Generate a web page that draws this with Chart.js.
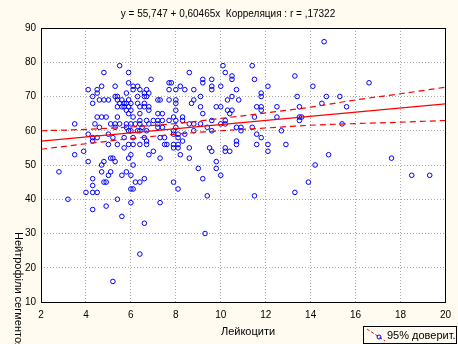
<!DOCTYPE html>
<html>
<head>
<meta charset="utf-8">
<script src="https://cdn.jsdelivr.net/npm/chart.js@4.4.0/dist/chart.umd.min.js"></script>
<style>
    html, body { margin: 0; padding: 0; background: #fffbf0; }
    canvas { display: block; }
</style>
</head>
<body>
<canvas id="scatterChart" width="458" height="344"></canvas>
<script>
// Лейкоцити (x) and Нейтрофіли сегментоядерні (y), one line per y level
const leukocytes = [
    14.6,
    5.5, 10.1, 11.4,
    4.8, 5.9, 8.6, 10.2,
    10.5, 13.3,
    6.9, 9.2, 9.6, 10.5, 11.5,
    5.9, 7.7, 7.8, 9.2, 16.6,
    4.7, 5.3, 6.1, 6.3, 8.2, 9.6, 10.0, 12.1, 14.1,
    4.1, 4.5, 6.1, 6.4, 6.7, 7.7, 8.0, 8.4, 8.8, 9.6, 10.7,
    4.5, 5.8, 6.6, 6.8, 11.8,
    4.3, 5.3, 5.4, 6.3, 6.6, 6.7, 9.1, 10.5, 11.8, 13.4, 14.7, 15.3,
    4.6, 4.8, 5.0, 5.4, 5.6, 5.9, 7.2, 7.3, 7.7, 8.0, 8.8, 10.3, 10.8,
    4.3, 5.5, 5.7, 5.8, 6.0, 6.3, 6.6, 8.0, 8.7, 14.5,
    5.4, 5.6, 5.7, 5.9, 6.4, 6.6, 6.8, 9.1, 9.8, 10.0, 11.6, 11.8, 12.5, 13.5, 15.6,
    5.8, 6.0, 6.8, 8.0, 10.3, 10.5, 11.8,
    5.9, 6.4, 7.2, 7.4, 9.2, 10.4,
    4.5, 4.7, 4.9, 5.4, 6.1, 7.9, 8.3, 11.5, 12.5, 13.5, 13.6,
    6.4, 6.7, 7.0, 7.2, 7.4, 7.7, 8.0, 8.3, 9.6, 10.2, 13.5,
    3.5, 4.4, 5.1, 5.3, 5.5, 5.8, 6.0, 6.2, 6.4, 6.8, 7.2, 8.6, 8.8, 9.1, 10.0, 10.2, 15.4,
    4.6, 5.3, 5.8, 6.5, 7.2, 7.4, 8.0, 9.4, 10.7, 10.9, 11.4,
    5.9, 6.0, 6.3, 6.4, 6.7, 7.9, 8.8, 9.6, 10.9, 12.7,
    4.1, 5.0, 7.9, 8.1, 8.4, 11.6,
    4.3, 4.5, 5.2, 5.7, 6.1, 6.6, 7.3, 7.5, 8.1, 11.8,
    4.3, 6.7, 8.3, 10.7,
    5.0, 5.4, 5.9, 6.1, 6.4, 6.7, 7.5, 7.6, 7.9, 8.1, 10.7, 11.6, 12.1, 12.9,
    5.7, 7.9, 8.1, 8.6, 9.5, 10.2,
    3.9, 7.0, 9.6, 10.2, 10.4, 12.1,
    3.5, 6.0, 6.8, 8.2, 14.8,
    5.1, 5.2, 5.9, 7.3, 8.6, 17.6,
    4.1, 4.8, 5.3, 9.8,
    4.7, 6.1, 14.2,
    9.0, 9.8,
    2.8, 4.7, 5.1, 5.8,
    5.0, 5.6, 6.0, 10.0, 18.5, 19.3,
    4.3, 6.6, 9.2,
    4.8, 4.9, 6.2, 6.4, 7.9, 13.9,
    4.3,
    6.0, 6.1, 8.1,
    4.0, 4.3, 4.5, 13.3,
    9.4, 11.5,
    3.2, 5.4,
    6.0, 7.3,
    4.9, 4.3, 5.6, 6.6, 9.3, 6.4, 5.2
];

const neutrophils = [
    86,
    79, 79, 79,
    77, 77, 77, 77,
    76, 76,
    75, 75, 75, 75, 75,
    74, 74, 74, 74, 74,
    73, 73, 73, 73, 73, 73, 73, 73, 73,
    72, 72, 72, 72, 72, 72, 72, 72, 72, 72, 72,
    71, 71, 71, 71, 71,
    70, 70, 70, 70, 70, 70, 70, 70, 70, 70, 70, 70,
    69, 69, 69, 69, 69, 69, 69, 69, 69, 69, 69, 69, 69,
    68, 68, 68, 68, 68, 68, 68, 68, 68, 68,
    67, 67, 67, 67, 67, 67, 67, 67, 67, 67, 67, 67, 67, 67, 67,
    66, 66, 66, 66, 66, 66, 66,
    65, 65, 65, 65, 65, 65,
    64, 64, 64, 64, 64, 64, 64, 64, 64, 64, 64,
    63, 63, 63, 63, 63, 63, 63, 63, 63, 63, 63,
    62, 62, 62, 62, 62, 62, 62, 62, 62, 62, 62, 62, 62, 62, 62, 62, 62,
    61, 61, 61, 61, 61, 61, 61, 61, 61, 61, 61,
    60, 60, 60, 60, 60, 60, 60, 60, 60, 60,
    59, 59, 59, 59, 59, 59,
    58, 58, 58, 58, 58, 58, 58, 58, 58, 58,
    57, 57, 57, 57,
    56, 56, 56, 56, 56, 56, 56, 56, 56, 56, 56, 56, 56, 56,
    55, 55, 55, 55, 55, 55,
    54, 54, 54, 54, 54, 54,
    53, 53, 53, 53, 53,
    52, 52, 52, 52, 52, 52,
    51, 51, 51, 51,
    50, 50, 50,
    49, 49,
    48, 48, 48, 48,
    47, 47, 47, 47, 47, 47,
    46, 46, 46,
    45, 45, 45, 45, 45, 45,
    44,
    43, 43, 43,
    42, 42, 42, 42,
    41, 41,
    40, 40,
    39, 39,
    38, 37, 35, 33, 30, 24, 16
];

// regression y = 55,747 + 0,60465x, ends read at x = 2 and x = 20
const fitX = [2, 20];
const fitY = [56.96, 67.84];

// 95% confidence band, read every 2 units of x
const bandX = [2, 4, 6, 8, 10, 12, 14, 16, 18, 20];
const bandUpper = [60.0, 60.4, 61.1, 62.1, 63.6, 65.2, 66.9, 69.0, 70.8, 72.7];
const bandLower = [54.6, 56.2, 57.7, 59.0, 60.0, 60.8, 61.6, 62.1, 62.5, 63.0];

const titleText = 'y = 55,747 + 0,60465x  Корреляция : r = ,17322';
const xTitle = 'Лейкоцити';
const yTitle = 'Нейтрофіли сегментоядерні';
const legendText = '95% доверит.';

const FONT = '"Liberation Sans", Arial, sans-serif';
const BG = '#fffbf0';

const toPoints = (xs, ys) => xs.map((x, i) => ({ x: x, y: ys[i] }));

const decorPlugin = {
    id: 'decor',
    beforeDraw(chart) {
        const { ctx, chartArea: a } = chart;
        ctx.save();
        ctx.fillStyle = BG;
        ctx.fillRect(0, 0, chart.width, chart.height);
        ctx.fillStyle = '#ffffff';
        ctx.fillRect(a.left, a.top, a.right - a.left, a.bottom - a.top);
        ctx.restore();
    },
    afterDraw(chart) {
        const { ctx, chartArea: a } = chart;
        ctx.save();

        // frame
        ctx.strokeStyle = '#000';
        ctx.lineWidth = 1;
        ctx.strokeRect(Math.round(a.left) + 0.5, Math.round(a.top) + 0.5,
            Math.round(a.right - a.left), Math.round(a.bottom - a.top));

        // title
        ctx.fillStyle = '#000';
        ctx.font = '10px ' + FONT;
        ctx.textAlign = 'center';
        ctx.textBaseline = 'middle';
        ctx.fillText(titleText, 228, 14);

        // x axis title
        ctx.font = '11px ' + FONT;
        ctx.fillText(xTitle, 248, 332);

        // y axis title, reads top to bottom
        ctx.save();
        ctx.translate(18, 232);
        ctx.rotate(Math.PI / 2);
        ctx.textAlign = 'left';
        ctx.fillText(yTitle, 0, 0);
        ctx.restore();

        // legend box
        ctx.strokeRect(363.5, 326.5, 93, 17);
        ctx.strokeStyle = '#ff0000';
        ctx.setLineDash([3, 2]);
        ctx.beginPath();
        ctx.moveTo(367, 329);
        ctx.lineTo(385, 341);
        ctx.stroke();
        ctx.setLineDash([]);
        ctx.strokeStyle = '#0000ff';
        ctx.beginPath();
        ctx.arc(379, 337, 2, 0, Math.PI * 2);
        ctx.stroke();
        ctx.fillStyle = '#000';
        ctx.font = '11px ' + FONT;
        ctx.textAlign = 'left';
        ctx.fillText(legendText, 387, 336);

        ctx.restore();
    }
};

const ctx = document.getElementById('scatterChart').getContext('2d');
new Chart(ctx, {
    type: 'scatter',
    data: {
        datasets: [
            {
                label: 'fit',
                type: 'line',
                data: toPoints(fitX, fitY),
                borderColor: '#ff0000',
                borderWidth: 1.2,
                pointRadius: 0,
                fill: false,
                order: 0
            },
            {
                label: 'upper',
                type: 'line',
                data: toPoints(bandX, bandUpper),
                borderColor: '#ff0000',
                borderWidth: 1.2,
                borderDash: [6, 4],
                pointRadius: 0,
                cubicInterpolationMode: 'monotone',
                fill: false,
                order: 0
            },
            {
                label: 'lower',
                type: 'line',
                data: toPoints(bandX, bandLower),
                borderColor: '#ff0000',
                borderWidth: 1.2,
                borderDash: [6, 4],
                pointRadius: 0,
                cubicInterpolationMode: 'monotone',
                fill: false,
                order: 0
            },
            {
                label: 'data',
                data: toPoints(leukocytes, neutrophils),
                borderColor: '#0000ff',
                backgroundColor: 'rgba(0,0,0,0)',
                borderWidth: 1,
                pointRadius: 2.3,
                order: 1
            }
        ]
    },
    options: {
        responsive: false,
        animation: false,
        devicePixelRatio: 1,
        layout: { padding: { top: 28, right: 12, left: 0, bottom: 0 } },
        plugins: {
            legend: { display: false },
            title: { display: false },
            tooltip: { enabled: false }
        },
        scales: {
            x: {
                type: 'linear',
                min: 2,
                max: 20,
                afterFit: (scale) => { scale.height = 42; },
                border: { display: false, dash: [1, 2] },
                grid: {
                    color: '#a8a8a8',
                    drawTicks: false
                },
                ticks: {
                    stepSize: 2,
                    padding: 7,
                    color: '#000',
                    font: { family: FONT, size: 10 }
                }
            },
            y: {
                type: 'linear',
                min: 10,
                max: 90,
                afterFit: (scale) => { scale.width = 41; },
                border: { display: false, dash: [1, 2] },
                grid: {
                    color: '#a8a8a8',
                    drawTicks: false
                },
                ticks: {
                    stepSize: 10,
                    padding: 5,
                    color: '#000',
                    font: { family: FONT, size: 10 }
                }
            }
        }
    },
    plugins: [decorPlugin]
});
</script>
</body>
</html>
